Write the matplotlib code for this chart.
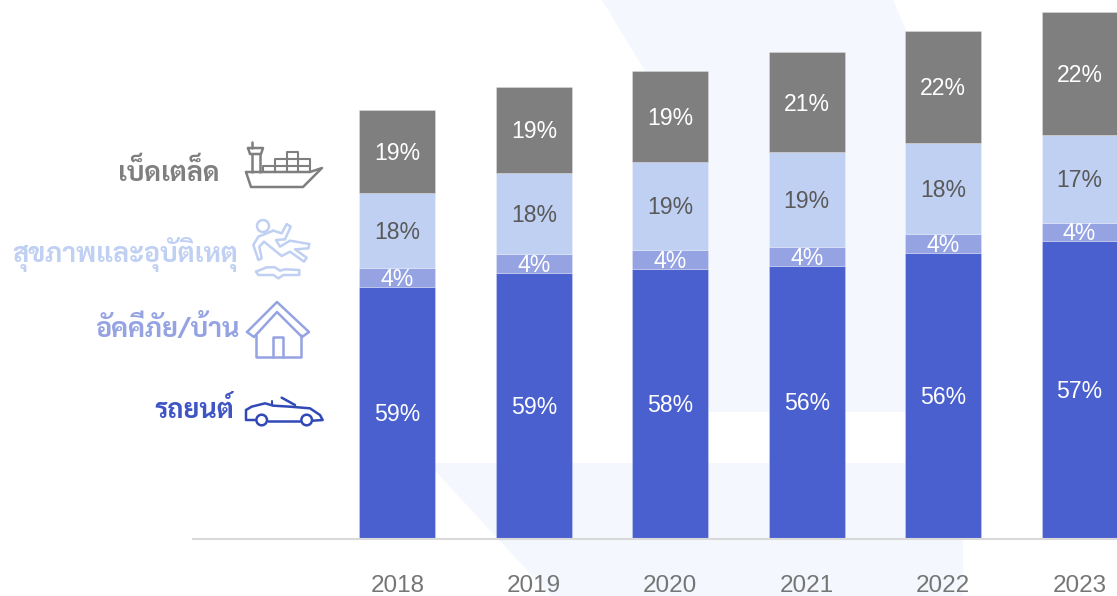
import matplotlib
matplotlib.use('Agg')
import matplotlib.pyplot as plt
from matplotlib.patches import Polygon, Circle

# Datos (altura de cada tramo, misma escala en todas las barras)
years = ['2018', '2019', '2020', '2021', '2022', '2023']
motor = [251, 265, 269, 272, 285, 297]
fire = [19, 19, 19, 19, 19, 18]
health = [75, 81, 88, 94.5, 91, 88]
marine = [83, 85.5, 90.5, 100, 111.5, 123]

motor_labels = ['59%', '59%', '58%', '56%', '56%', '57%']
fire_labels = ['4%', '4%', '4%', '4%', '4%', '4%']
health_labels = ['18%', '18%', '19%', '19%', '18%', '17%']
marine_labels = ['19%', '19%', '19%', '21%', '22%', '22%']

legend_names = ['เบ็ดเตล็ด', 'สุขภาพและอุบัติเหตุ', 'อัคคีภัย/บ้าน', 'รถยนต์']

BLUE = '#4A60CF'
PERI = '#95A3E3'
LIGHT = '#C0D0F3'
GREY = '#7F7F7F'
PALE = '#F4F7FD'
CAR = '#3049B6'

plt.rcParams['font.family'] = ['Liberation Sans', 'DejaVu Sans']

W, H = 1117, 596
fig = plt.figure(figsize=(W / 100, H / 100), dpi=100)

# Capa de fondo, en pixeles
bg = fig.add_axes([0, 0, 1, 1])
bg.set_xlim(0, W)
bg.set_ylim(H, 0)
bg.axis('off')
bg.add_patch(Polygon([(602, 0), (645, 71), (672, 412), (960, 412), (906, 30), (893, 0)],
                     fc=PALE, ec='none'))
bg.add_patch(Polygon([(427, 463), (963, 463), (963, 596), (551, 596), (437, 473)], fc=PALE, ec='none'))

# Barras
ax = fig.add_axes([193 / W, (H - 538.5) / H, (W - 193) / W, 538.5 / H])
ax.patch.set_alpha(0)
ax.set_xlim(-1.499, 5.275)
ax.set_ylim(-0.8, 537.7)

x = range(len(years))
series = [
    (motor, BLUE, motor_labels, 'white'),
    (fire, PERI, fire_labels, 'white'),
    (health, LIGHT, health_labels, '#595959'),
    (marine, GREY, marine_labels, 'white'),
]
bottom = [0] * len(years)
for vals, color, labels, tcolor in series:
    ax.bar(x, vals, 0.557, bottom=bottom, color=color, edgecolor=(1, 1, 1, 0.25), linewidth=0.7)
    for i, v in enumerate(vals):
        ax.text(i, bottom[i] + v / 2 - 2, labels[i], color=tcolor, fontsize=16.6,
                ha='center', va='center')
    bottom = [b + v for b, v in zip(bottom, vals)]

for s in ['top', 'left', 'right']:
    ax.spines[s].set_visible(False)
ax.spines['bottom'].set_color('#D9D9D9')
ax.spines['bottom'].set_linewidth(1.5)
ax.set_yticks([])
ax.set_xticks(list(x))
ax.set_xticklabels(years, fontsize=17.5, color='#767676')
ax.tick_params(axis='x', length=0, pad=26)

# Leyenda a mano: nombres e iconos
icons = fig.add_axes([0, 0, 1, 1])
icons.set_xlim(0, W)
icons.set_ylim(H, 0)
icons.axis('off')

name_x = [219, 238, 240, 234]
name_y = [173, 254, 329, 411]
name_color = [GREY, LIGHT, PERI, '#3F55C4']
for name, nx, ny, c in zip(legend_names, name_x, name_y, name_color):
    icons.text(nx, ny, name, color=c, fontsize=19.4, fontweight='bold', family=['Sarabun', 'Liberation Sans'],
               ha='right', va='center')


def stroke(points, color, lw=1.6, closed=False):
    xs = [p[0] for p in points]
    ys = [p[1] for p in points]
    if closed:
        xs.append(xs[0])
        ys.append(ys[0])
    icons.plot(xs, ys, color=color, lw=lw, solid_capstyle='round', solid_joinstyle='round')


# barco
c = GREY
stroke([(246, 172), (310, 172), (322, 168), (303, 187), (251, 187)], c, lw=1.8, closed=True)
stroke([(252, 142), (252, 148)], c, lw=1.8)
stroke([(248, 148), (263, 148), (261, 154), (250, 154)], c, lw=1.8, closed=True)
stroke([(252, 154), (252, 172)], c, lw=1.8)
stroke([(260, 154), (260, 172)], c, lw=1.8)
stroke([(263, 172), (263, 166), (310, 166), (310, 172)], c, lw=1.5)
stroke([(275, 172), (275, 159), (310, 159), (310, 166)], c, lw=1.5)
stroke([(287, 172), (287, 152), (298, 152), (298, 172)], c, lw=1.5)

# persona cayendo
c = LIGHT
icons.add_patch(Circle((263, 226), 6, fc='none', ec=c, lw=1.8))
body = [(100, 62), (55, 80), (40, 105), (55, 150), (65, 145), (58, 110), (72, 95), (125, 138), (150, 125), (192, 155),
        (200, 143), (165, 118), (205, 115), (208, 102), (150, 92), (120, 110), (108, 90), (135, 88), (152, 50),
        (140, 42), (125, 70)]
puddle = [(48, 185), (80, 172), (105, 172), (120, 182), (135, 178), (178, 180), (178, 195), (130, 195), (115, 205),
          (100, 195), (55, 195)]
stroke([(240 + px / 3, 210 + py / 3) for px, py in body], c, lw=1.8, closed=True)
stroke([(240 + px / 3, 210 + py / 3) for px, py in puddle], c, lw=1.8, closed=True)

# casa
c = PERI
stroke([(247, 332), (277, 302), (309, 332), (302, 337), (277, 312), (254, 337)], c, lw=1.8, closed=True)
stroke([(256, 335), (256, 357), (301, 357), (301, 335)], c, lw=1.8)
stroke([(273, 357), (273, 337), (283, 337), (283, 357)], c, lw=1.8)

# coche
c = CAR
shell = [(45, 105), (18, 105), (18, 75), (35, 65), (75, 55), (100, 62), (150, 65), (210, 70), (240, 90), (248, 105),
         (220, 107)]
stroke([(240 + px / 3, 385 + py / 3) for px, py in shell], c, lw=1.8)
stroke([(240 + 85 / 3, 385 + 108 / 3), (240 + 180 / 3, 385 + 108 / 3)], c, lw=1.8)
stroke([(240 + 125 / 3, 385 + 38 / 3), (240 + 165 / 3, 385 + 60 / 3)], c, lw=1.8)
stroke([(240 + 97 / 3, 385 + 48 / 3), (240 + 97 / 3, 385 + 60 / 3)], c, lw=1.5)
icons.add_patch(Circle((240 + 65 / 3, 385 + 105 / 3), 5.3, fc='white', ec=c, lw=1.8))
icons.add_patch(Circle((240 + 200 / 3, 385 + 105 / 3), 5.3, fc='white', ec=c, lw=1.8))

fig.savefig('out.png', dpi=100)
